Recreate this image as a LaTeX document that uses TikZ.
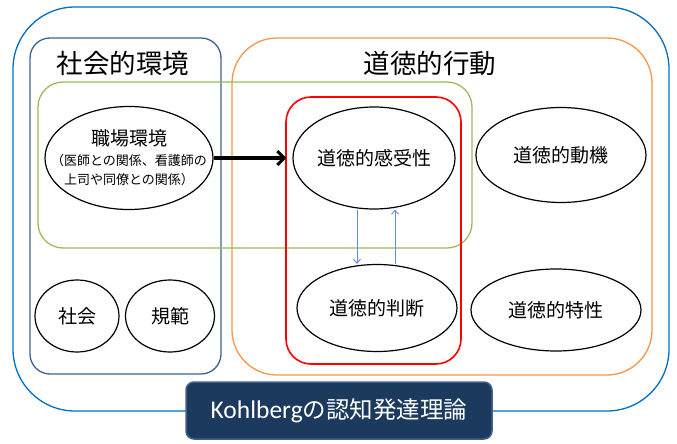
\documentclass[tikz,border=0pt]{standalone}
\usepackage{fontspec}
\setmainfont{Noto Sans CJK JP}
\newfontfamily\latinfont{Carlito}
\usetikzlibrary{shapes.geometric,arrows.meta}
\definecolor{outerblue}{HTML}{0070C0}
\definecolor{socblue}{HTML}{3F6292}
\definecolor{orangeb}{HTML}{F79646}
\definecolor{greenb}{HTML}{9BBB59}
\definecolor{redb}{HTML}{FF0000}
\definecolor{navy}{HTML}{1B3A5E}
\definecolor{navyedge}{HTML}{41618A}
\definecolor{arrowblue}{HTML}{5F8FD0}
\tikzset{
  oval/.style={ellipse, draw=black, line width=1.2pt, inner sep=0pt, align=center, font=\fontsize{19}{22}\selectfont},
  frame/.style={line width=1.3pt},
  title/.style={font=\fontsize{26.5}{30}\selectfont, inner sep=0pt},
  thinarrow/.style={draw=arrowblue, line width=0.9pt, -{Straight Barb[length=4pt,width=7pt]}},
}
\begin{document}
\begin{tikzpicture}[x=1pt,y=-1pt]
\useasboundingbox (0,0) rectangle (677,444);
% frames
\draw[frame, outerblue, rounded corners=62pt] (13,7) rectangle (669,411);
\draw[frame, socblue, rounded corners=20pt] (30,38) rectangle (221,374);
\draw[frame, orangeb, rounded corners=45pt] (232,38) rectangle (652,375);
\draw[frame, greenb, rounded corners=25pt] (38,82) rectangle (472,248);
\draw[frame, redb, line width=1.6pt, rounded corners=25pt] (286,97) rectangle (461,364);
% titles
\node[title] (soctitle) at (123,63) {社会的環境};
\node[title] (acttitle) at (430,63) {道徳的行動};
% ellipses
\node[oval, minimum width=168pt, minimum height=103pt] (work) at (129,158) {};
\node[align=center, inner sep=0pt, font=\fontsize{19}{22}\selectfont] (worktext) at (work.center)
  {職場環境\\[-2pt]{\fontsize{13}{17}\selectfont （医師との関係、看護師の}\\[-3pt]{\fontsize{13}{17}\selectfont 上司や同僚との関係）}};
\node[oval, minimum width=162pt, minimum height=102pt] (sens) at (374,158) {道徳的感受性};
\node[oval, minimum width=170pt, minimum height=95pt] (motiv) at (561,155) {道徳的動機};
\node[oval, minimum width=160pt, minimum height=87pt] (judg) at (377,308) {道徳的判断};
\node[oval, minimum width=170pt, minimum height=82pt] (char) at (556,310) {道徳的特性};
\node[oval, minimum width=84pt, minimum height=72pt] (soc) at (77,316) {社会};
\node[oval, minimum width=89pt, minimum height=72pt] (norm) at (170,316) {規範};
% arrows
\draw[line width=3.4pt, -{Straight Barb[length=7pt,width=14pt,line width=3pt]}, shorten >=6pt] (work.east) -- (sens.west);
\draw[thinarrow] ([xshift=-17pt]sens.south) -- ([xshift=-20pt]judg.north);
\draw[thinarrow] ([xshift=18pt]judg.north) -- ([xshift=21pt]sens.south);
% Kohlberg box
\node[draw=navyedge, fill=navy, line width=1.5pt, rounded corners=8pt, minimum width=306pt, minimum height=57pt, inner sep=0pt, text=white, font=\fontsize{23.5}{26}\selectfont] (kohl) at (339,410.5)
  {{\latinfont\fontsize{25.5}{26}\selectfont Kohlberg}の認知発達理論};
\end{tikzpicture}
\end{document}
